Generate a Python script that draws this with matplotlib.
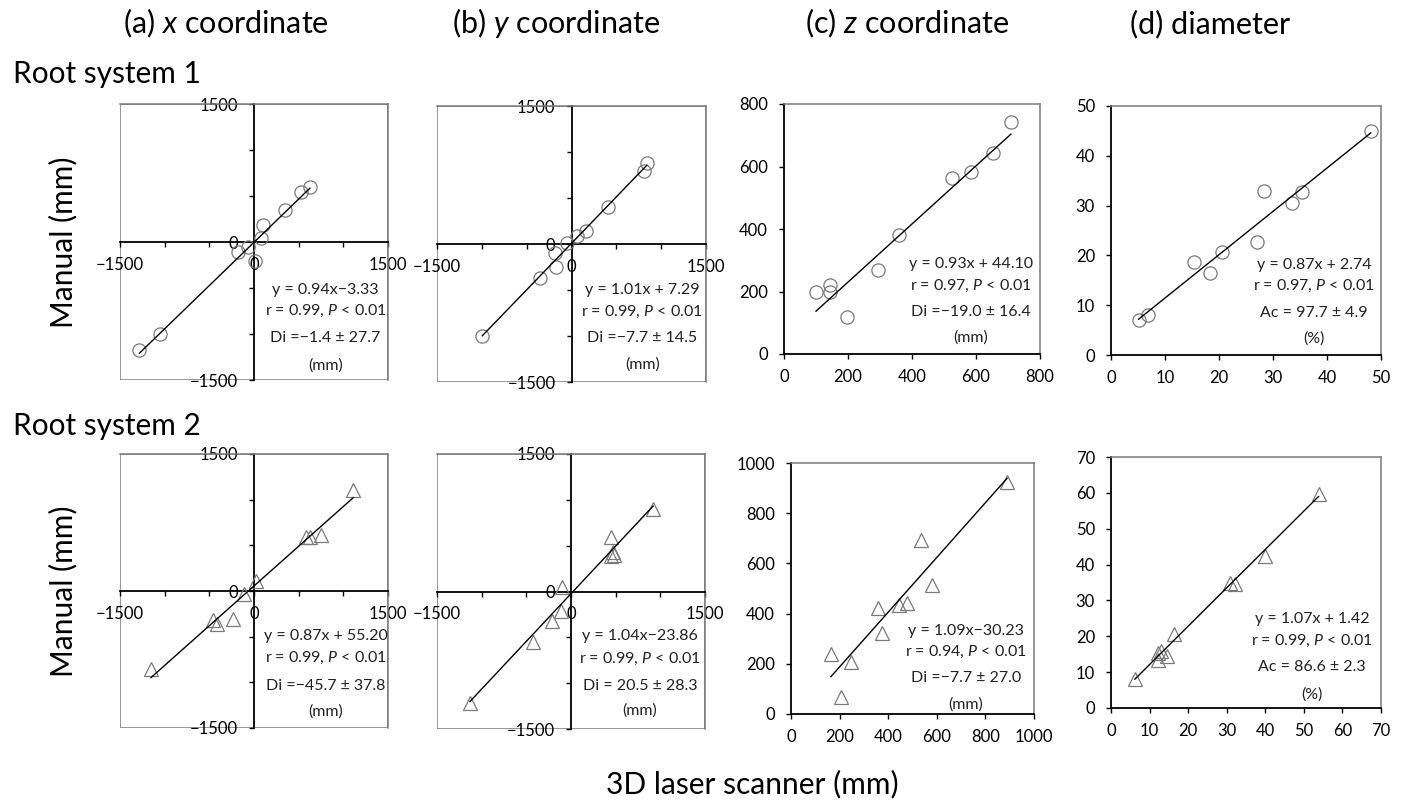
import matplotlib
matplotlib.use("Agg")
import matplotlib.pyplot as plt
from matplotlib.patches import Rectangle

plt.rcParams["font.family"] = ["Lato", "DejaVu Sans"]
plt.rcParams["mathtext.fontset"] = "custom"
plt.rcParams["mathtext.rm"] = "Lato"
plt.rcParams["mathtext.it"] = "Lato:italic"

# Root system 1 (circles), root system 2 (triangles)
a1_x = [-1283, -1051, -174, -62, 6, 80, 106, 342, 525, 626]
a1_y = [-1178, -1000, -112, -51, -203, 47, 185, 344, 540, 598]
b1_x = [-994, -354, -182, -175, -45, 56, 160, 402, 804, 841]
b1_y = [-1000, -373, -101, -250, 14, 91, 138, 399, 793, 877]
c1_x = [100, 143, 143, 196, 295, 360, 526, 583, 652, 709]
c1_y = [198, 221, 200, 118, 268, 380, 562, 583, 642, 741]
d1_x = [5.1, 6.8, 15.3, 18.3, 20.5, 27.1, 28.4, 33.6, 35.4, 48.1]
d1_y = [7.0, 8.0, 18.7, 16.5, 20.7, 22.7, 33.0, 30.6, 32.7, 45.0]

a2_x = [-1152, -454, -417, -230, -110, 21, 585, 629, 753, 1111]
a2_y = [-853, -317, -361, -306, -36, 113, 594, 594, 616, 1105]
b2_x = [-1131, -424, -212, -115, -97, 443, 465, 484, 447, 919]
b2_y = [-1216, -546, -317, -215, 51, 597, 426, 397, 386, 899]
c2_x = [164, 205, 245, 357, 375, 443, 477, 536, 580, 889]
c2_y = [241, 69, 206, 424, 324, 434, 444, 692, 515, 924]
d2_x = [6.2, 12.1, 12.3, 13.0, 14.5, 16.4, 30.8, 32.1, 40.0, 53.8]
d2_y = [8.1, 13.4, 15.3, 15.8, 14.6, 20.6, 35.0, 34.7, 42.4, 59.6]

# regression lines as printed in each panel
slopes = [0.94, 1.01, 0.93, 0.87, 0.87, 1.04, 1.09, 1.07]
intercepts = [-3.33, 7.29, 44.10, 2.74, 55.20, -23.86, -30.23, 1.42]

eq_labels = ["y = 0.94x\u22123.33", "y = 1.01x + 7.29", "y = 0.93x + 44.10",
             "y = 0.87x + 2.74", "y = 0.87x + 55.20", "y = 1.04x\u221223.86",
             "y = 1.09x\u221230.23", "y = 1.07x + 1.42"]
r_labels = ["0.99", "0.99", "0.97", "0.97", "0.99", "0.99", "0.94", "0.99"]
err_labels = ["Di =\u22121.4 \u00b1 27.7", "Di =\u22127.7 \u00b1 14.5",
              "Di =\u221219.0 \u00b1 16.4", "Ac = 97.7 \u00b1 4.9",
              "Di =\u221245.7 \u00b1 37.8", "Di = 20.5 \u00b1 28.3",
              "Di =\u22127.7 \u00b1 27.0", "Ac = 86.6 \u00b1 2.3"]
unit_labels = ["(mm)", "(mm)", "(mm)", "(%)", "(mm)", "(mm)", "(mm)", "(%)"]

col_titles = ["(a) $\\mathit{x}$ coordinate", "(b) $\\mathit{y}$ coordinate",
              "(c) $\\mathit{z}$ coordinate", "(d) diameter"]
row_titles = ["Root system 1", "Root system 2"]

c_max = [800, 1000]
d_max = [50, 70]

W, H = 1403, 801

# axes boxes in pixels: left, top, right, bottom
boxes = [
    (120, 104, 388, 380), (437, 106, 706, 382), (784, 104, 1040, 354), (1111, 106, 1381, 355),
    (120, 454, 388, 728), (437, 454, 705, 729), (791, 463, 1034, 714), (1111, 457, 1381, 708),
]
# annotation centre x and line y (axes fraction)
ann_pos = [
    (0.767, [0.326, 0.251, 0.151, 0.054]), (0.763, [0.333, 0.255, 0.158, 0.062]),
    (0.73, [0.361, 0.273, 0.166, 0.064]), (0.752, [0.361, 0.277, 0.17, 0.067]),
    (0.767, [0.334, 0.255, 0.154, 0.061]), (0.757, [0.337, 0.256, 0.157, 0.066]),
    (0.72, [0.332, 0.247, 0.142, 0.036]), (0.744, [0.355, 0.269, 0.163, 0.053]),
]

MARKER_EDGE = "#7a7a7a"
FRAME_GREY = "#7a7a7a"
TICK_SIZE = 12
ANN_SIZE = 11.5
TITLE_SIZE = 22
LABEL_SIZE = 21.5


def make_axes(fig, box):
    l, t, r, b = box
    return fig.add_axes([l / W, 1 - b / H, (r - l) / W, (b - t) / H])


def style_cross(ax):
    # quadrant style: axes through the origin, framed box
    ax.set_xlim(-1500, 1500)
    ax.set_ylim(-1500, 1500)
    for side in ["left", "bottom"]:
        ax.spines[side].set_position(("data", 0))
        ax.spines[side].set_color("black")
        ax.spines[side].set_linewidth(1.3)
    for side in ["top", "right"]:
        ax.spines[side].set_color(FRAME_GREY)
        ax.spines[side].set_linewidth(1.1)
    ax.add_patch(Rectangle((0, 0), 1, 1, transform=ax.transAxes, fill=False,
                           edgecolor=FRAME_GREY, linewidth=1.1, zorder=0.5))
    ticks = [-1500, -1000, -500, 0, 500, 1000, 1500]
    labels = ["\u22121500", "", "", "0", "", "", "1500"]
    ax.set_xticks(ticks, labels)
    ax.set_yticks(ticks, labels)
    ax.tick_params(direction="out", length=3.5, width=1, labelsize=TICK_SIZE)
    ax.tick_params(axis="x", pad=7)
    ax.tick_params(axis="y", pad=8)


def style_plain(ax, vmax, step):
    ax.set_xlim(0, vmax)
    ax.set_ylim(0, vmax)
    for side in ["left", "bottom"]:
        ax.spines[side].set_color("black")
        ax.spines[side].set_linewidth(1.3)
    for side in ["top", "right"]:
        ax.spines[side].set_color(FRAME_GREY)
        ax.spines[side].set_linewidth(1.1)
    ticks = list(range(0, vmax + 1, step))
    ax.set_xticks(ticks)
    ax.set_yticks(ticks)
    ax.tick_params(direction="out", length=3.5, width=1, labelsize=TICK_SIZE)
    ax.tick_params(axis="x", pad=7)
    ax.tick_params(axis="y", pad=8)


fig = plt.figure(figsize=(W / 100, H / 100), dpi=100)

panels = [(a1_x, a1_y), (b1_x, b1_y), (c1_x, c1_y), (d1_x, d1_y),
          (a2_x, a2_y), (b2_x, b2_y), (c2_x, c2_y), (d2_x, d2_y)]

for i, (xs, ys) in enumerate(panels):
    ax = make_axes(fig, boxes[i])
    row, col = divmod(i, 4)
    if col < 2:
        style_cross(ax)
    elif col == 2:
        style_plain(ax, c_max[row], 200)
    else:
        style_plain(ax, d_max[row], 10)

    marker = "o" if row == 0 else "^"
    ax.plot(xs, ys, linestyle="none", marker=marker, markersize=9.5,
            markerfacecolor="none", markeredgecolor=MARKER_EDGE,
            markeredgewidth=0.9, zorder=3)
    x0, x1 = min(xs), max(xs)
    ax.plot([x0, x1], [slopes[i] * x0 + intercepts[i], slopes[i] * x1 + intercepts[i]],
            color="black", linewidth=1.0, zorder=4)

    cx, line_ys = ann_pos[i]
    texts = [eq_labels[i], "r = " + r_labels[i] + ", $\\mathit{P}$ < 0.01",
             err_labels[i], unit_labels[i]]
    for s, y in zip(texts, line_ys):
        ax.text(cx, y, s, transform=ax.transAxes, ha="center", va="center",
                fontsize=ANN_SIZE, color="#222222", zorder=5)

# column and row titles
title_left = [123, 452, 805, 1130]
for x, s in zip(title_left, col_titles):
    fig.text(x / W, 1 - 33 / H, s, ha="left", va="baseline", fontsize=TITLE_SIZE)

for y, s in zip([83, 435], row_titles):
    fig.text(13 / W, 1 - y / H, s, ha="left", va="baseline", fontsize=LABEL_SIZE)

for y in [242, 591]:
    fig.text(63 / W, 1 - y / H, "Manual (mm)", ha="center", va="center",
             rotation=90, fontsize=LABEL_SIZE)

fig.text(752 / W, 1 - 793 / H, "3D laser scanner (mm)", ha="center", va="baseline",
         fontsize=LABEL_SIZE)

fig.savefig("out.png", dpi=100)
